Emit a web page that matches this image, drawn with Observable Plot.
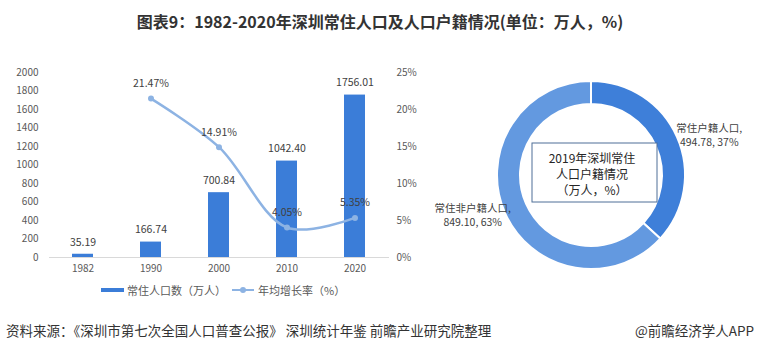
<!DOCTYPE html>
<html><head><meta charset="utf-8">
<script src="https://cdn.jsdelivr.net/npm/d3@7"></script>
<script src="https://cdn.jsdelivr.net/npm/@observablehq/plot@0.6"></script>
<style>
body{margin:0;background:#fff;font-family:"Noto Sans CJK SC","Liberation Sans",sans-serif;}
#wrap{position:relative;width:760px;height:354px;overflow:hidden;background:#fff;}
#title{position:absolute;left:0;top:9px;width:760px;text-align:center;font-weight:bold;font-size:16px;color:#333;line-height:24px;}
#left{position:absolute;left:0;top:50px;}
#right{position:absolute;left:420px;top:60px;}
.leg{position:absolute;top:282px;height:16px;display:flex;align-items:center;font-size:11px;color:#595959;white-space:nowrap;}
.sw-bar{display:inline-block;width:23px;height:4px;margin-right:3px;}
.sw-line{position:relative;display:inline-block;width:22px;height:2px;margin-right:4px;}
.sw-line i{position:absolute;left:8px;top:-2px;width:6px;height:6px;border-radius:50%;}
.foot{position:absolute;top:321px;font-size:13.5px;color:#333;line-height:18px;white-space:nowrap;}
</style></head>
<body>
<div id="wrap">
  <div id="title"></div>
  <div id="left"></div>
  <div id="right"></div>
  <div class="leg" id="leg1" style="left:101px"></div>
  <div class="leg" id="leg2" style="left:232px"></div>
  <div class="foot" id="src" style="left:6px"></div>
  <div class="foot" id="app" style="right:6px"></div>
</div>
<script>
// ---- data ----
const titleText = "图表9：1982-2020年深圳常住人口及人口户籍情况(单位：万人，%)";
const years = ["1982", "1990", "2000", "2010", "2020"];
const population = [35.19, 166.74, 700.84, 1042.40, 1756.01];
const growth = [null, 21.47, 14.91, 4.05, 5.35];
const popTicks = [0, 200, 400, 600, 800, 1000, 1200, 1400, 1600, 1800, 2000];
const pctTicks = [0, 5, 10, 15, 20, 25];
const seriesNames = ["常住人口数（万人）", "年均增长率（%）"];

const donutTitle = ["2019年深圳常住", "人口户籍情况", "（万人，%）"];
const donutNames = ["常住户籍人口", "常住非户籍人口"];
const donutValues = [494.78, 849.10];
const donutPct = [37, 63];

const sourceText = "资料来源：《深圳市第七次全国人口普查公报》 深圳统计年鉴 前瞻产业研究院整理";
const appText = "@前瞻经济学人APP";

// ---- style ----
const FONT = '"Noto Sans CJK SC","Liberation Sans",sans-serif';
const BAR = "#3b7dd8";
const LINE = "#8db3e3";
const DONUT = ["#3e7fd9", "#6399e0"];

document.getElementById("title").textContent = titleText;
document.getElementById("src").textContent = sourceText;
document.getElementById("app").textContent = appText;
document.getElementById("leg1").innerHTML = `<span class="sw-bar" style="background:${BAR}"></span>${seriesNames[0]}`;
document.getElementById("leg2").innerHTML = `<span class="sw-line" style="background:${LINE}"><i style="background:${LINE}"></i></span>${seriesNames[1]}`;

// ---- left chart ----
const k = popTicks[popTicks.length - 1] / pctTicks[pctTicks.length - 1];
const barData = years.map((y, i) => ({year: y, pop: population[i]}));
const lineData = years.map((y, i) => ({year: y, g: growth[i]})).filter(d => d.g != null);

const left = Plot.plot({
  width: 430, height: 250,
  marginTop: 22, marginBottom: 43, marginLeft: 49, marginRight: 41,
  style: {fontFamily: FONT, fontSize: "10px", color: "#595959", background: "transparent", overflow: "visible"},
  x: {domain: years, paddingInner: 0.69, paddingOuter: 0.345, label: null},
  y: {domain: [0, 2000], label: null},
  marks: [
    Plot.ruleY([0], {stroke: "#d9d9d9", strokeWidth: 1}),
    Plot.barY(barData, {x: "year", y: "pop", fill: BAR}),
    Plot.axisX({tickSize: 0, tickPadding: 7, label: null, fontSize: 10}),
    Plot.axisY({ticks: popTicks, tickFormat: v => String(v), tickSize: 0, tickPadding: 11, label: null, fontSize: 10}),
    Plot.axisY({anchor: "right", ticks: pctTicks.map(p => p * k), tickFormat: v => `${v / k}%`, tickSize: 0, tickPadding: 7, label: null, fontSize: 10}),
    Plot.line(lineData, {x: "year", y: d => d.g * k, stroke: LINE, strokeWidth: 2.5, curve: "catmull-rom"}),
    Plot.dot(lineData, {x: "year", y: d => d.g * k, r: 3, fill: LINE}),
    Plot.text(barData, {x: "year", y: "pop", text: d => d.pop.toFixed(2), dy: -12, fill: "#404040", fontSize: 10.5}),
    Plot.text(lineData, {x: "year", y: d => d.g * k, text: d => d.g.toFixed(2) + "%", dy: -15, fill: "#404040", fontSize: 10.5})
  ]
});
document.getElementById("left").appendChild(left);

// ---- donut ----
const W = 340, H = 240, cx = 171, cy = 115;
const pieData = d3.pie().sort(null)(donutValues);
const arc = d3.arc().innerRadius(71).outerRadius(94);

const right = Plot.plot({
  width: W, height: H, margin: 0,
  style: {fontFamily: FONT, fontSize: "10.5px", color: "#404040", background: "transparent", overflow: "visible"},
  marks: [
    () => {
      const g = d3.create("svg:g").attr("transform", `translate(${cx},${cy})`);
      g.selectAll("path").data(pieData).join("path")
        .attr("d", arc).attr("fill", (d, i) => DONUT[i])
        .attr("stroke", "#fff").attr("stroke-width", 2);
      // outside labels
      const R = 125, nudge = 0.085;
      pieData.forEach((d, i) => {
        const a = (d.startAngle + d.endAngle) / 2 + nudge;
        const x = R * Math.sin(a), y = -R * Math.cos(a);
        const t = g.append("text").attr("text-anchor", "middle").attr("fill", "#404040").attr("font-size", 10.5);
        t.append("tspan").attr("x", x).attr("y", y - 3).text(donutNames[i] + ",");
        t.append("tspan").attr("x", x).attr("y", y + 11).text(`${donutValues[i].toFixed(2)}, ${donutPct[i]}%`);
      });
      // center box
      g.append("rect").attr("x", -59).attr("y", -32).attr("width", 125).attr("height", 59)
        .attr("fill", "#fff").attr("stroke", "#4f6f97").attr("stroke-width", 1);
      const ct = g.append("text").attr("text-anchor", "middle").attr("fill", "#262626").attr("font-size", 12);
      donutTitle.forEach((s, i) => ct.append("tspan").attr("x", 1).attr("y", -16 + i * 16 + 4).text(s));
      return g.node();
    }
  ]
});
document.getElementById("right").appendChild(right);
</script>
</body></html>
